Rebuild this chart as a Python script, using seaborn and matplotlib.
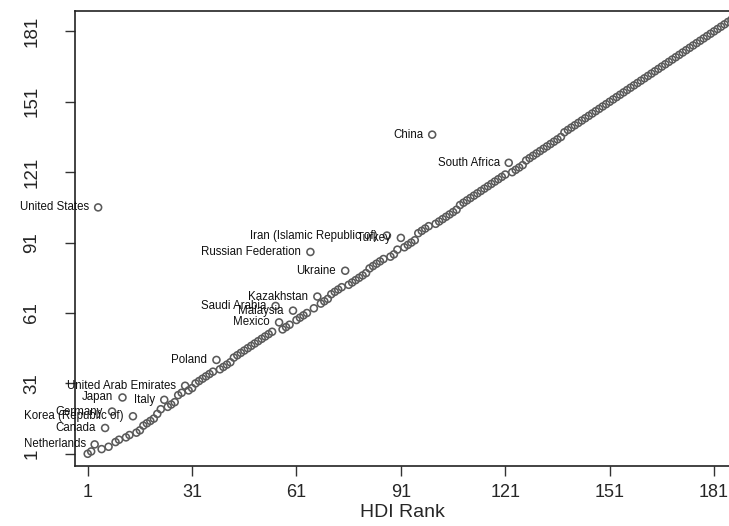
import matplotlib
matplotlib.use("Agg")
import matplotlib.pyplot as plt
import seaborn as sns
import pandas as pd

hdi_rank = [
    1, 2, 3, 4, 5, 6, 7, 8, 9, 10, 11, 12, 13, 14, 15, 16, 17, 18, 19, 20,
    21, 22, 23, 24, 25, 26, 27, 28, 29, 30, 31, 32, 33, 34, 35, 36, 37, 38, 39, 40,
    41, 42, 43, 44, 45, 46, 47, 48, 49, 50, 51, 52, 53, 54, 55, 56, 57, 58, 59, 60,
    61, 62, 63, 64, 65, 66, 67, 68, 69, 70, 71, 72, 73, 74, 75, 76, 77, 78, 79, 80,
    81, 82, 83, 84, 85, 86, 87, 88, 89, 90, 91, 92, 93, 94, 95, 96, 97, 98, 99, 100,
    101, 102, 103, 104, 105, 106, 107, 108, 109, 110, 111, 112, 113, 114, 115, 116, 117, 118, 119, 120,
    121, 122, 123, 124, 125, 126, 127, 128, 129, 130, 131, 132, 133, 134, 135, 136, 137, 138, 139, 140,
    141, 142, 143, 144, 145, 146, 147, 148, 149, 150, 151, 152, 153, 154, 155, 156, 157, 158, 159, 160,
    161, 162, 163, 164, 165, 166, 167, 168, 169, 170, 171, 172, 173, 174, 175, 176, 177, 178, 179, 180,
    181, 182, 183, 184, 185, 186,
]
other_rank = [
    1, 2, 5, 106, 3, 12, 4, 19, 6, 7, 25, 8, 9, 17, 10, 11, 13, 14, 15, 16,
    18, 20, 24, 21, 22, 23, 26, 27, 30, 28, 29, 31, 32, 33, 34, 35, 36, 41, 37, 38,
    39, 40, 42, 43, 44, 45, 46, 47, 48, 49, 50, 51, 52, 53, 64, 57, 54, 55, 56, 62,
    58, 59, 60, 61, 87, 63, 68, 65, 66, 67, 69, 70, 71, 72, 79, 73, 74, 75, 76, 77,
    78, 80, 81, 82, 83, 84, 94, 85, 86, 88, 93, 89, 90, 91, 92, 95, 96, 97, 98, 137,
    99, 100, 101, 102, 103, 104, 105, 107, 108, 109, 110, 111, 112, 113, 114, 115, 116, 117, 118, 119,
    120, 125, 121, 122, 123, 124, 126, 127, 128, 129, 130, 131, 132, 133, 134, 135, 136, 138, 139, 140,
    141, 142, 143, 144, 145, 146, 147, 148, 149, 150, 151, 152, 153, 154, 155, 156, 157, 158, 159, 160,
    161, 162, 163, 164, 165, 166, 167, 168, 169, 170, 171, 172, 173, 174, 175, 176, 177, 178, 179, 180,
    181, 182, 183, 184, 185, 186,
]

label_names = [
    "Netherlands", "United States", "Canada", "Germany", "Japan",
    "Korea (Republic of)", "Italy", "United Arab Emirates", "Poland",
    "Saudi Arabia", "Mexico", "Malaysia", "Russian Federation", "Kazakhstan",
    "Ukraine", "Iran (Islamic Republic of)", "Turkey", "China", "South Africa",
]
label_hdi = [3, 4, 6, 8, 11, 14, 23, 29, 38, 55, 56, 60, 65, 67, 75, 87, 91, 100, 122]

ticks = [1, 31, 61, 91, 121, 151, 181]

df = pd.DataFrame({"hdi": hdi_rank, "other": other_rank})

sns.set_style("white")
plt.rcParams["font.family"] = ["Liberation Sans", "DejaVu Sans"]

fig = plt.figure(figsize=(7.29, 5.26), dpi=100)
ax = fig.add_axes([75 / 729, 60 / 526, 654 / 729, 455.5 / 526])

sns.scatterplot(data=df, x="hdi", y="other", ax=ax, marker="o", s=25,
                facecolor="none", edgecolor="#5a5a5a", linewidth=1.15,
                legend=False, clip_on=True)

lookup = dict(zip(hdi_rank, other_rank))
for name, h in zip(label_names, label_hdi):
    ax.annotate(name, xy=(h, lookup[h]), xytext=(-6.5, 0),
                textcoords="offset points", ha="right", va="center",
                fontsize=8.3, color="#111111", annotation_clip=False)

ax.set_xlim(-2.65, 185.3)
ax.set_ylim(-4.2, 189.9)
ax.set_xticks(ticks)
ax.set_yticks(ticks)
ax.set_xticklabels([str(t) for t in ticks], fontsize=13)
ax.set_yticklabels([str(t) for t in ticks], fontsize=13.5, rotation=90, va="center")
ax.tick_params(axis="both", direction="out", length=7, width=1, color="#333333",
               left=True, bottom=True)
ax.tick_params(axis="x", pad=6)
ax.tick_params(axis="y", pad=18)
ax.set_xlabel("HDI Rank", fontsize=14, labelpad=2)
ax.set_ylabel("")
for side in ["left", "top", "bottom"]:
    ax.spines[side].set_visible(True)
    ax.spines[side].set_color("#222222")
    ax.spines[side].set_linewidth(1.2)
ax.spines["right"].set_visible(False)
ax.grid(False)

fig.savefig("out.png", dpi=100)
